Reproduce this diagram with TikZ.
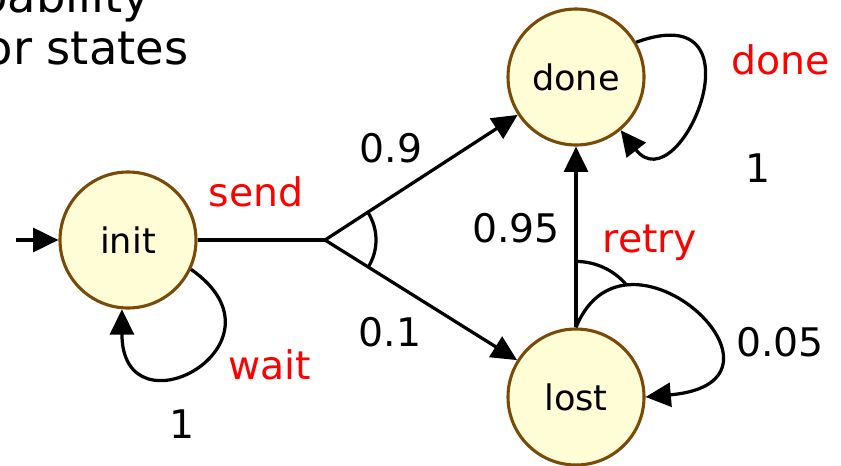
\documentclass[tikz,border=0pt]{standalone}
\usepackage{fontspec}
\setmainfont{DejaVu Sans}
\usetikzlibrary{arrows.meta}
\definecolor{stateFill}{RGB}{255,253,214}
\definecolor{stateLine}{RGB}{122,74,8}
\definecolor{actRed}{RGB}{255,0,0}

\begin{document}
\begin{tikzpicture}[
	state/.style={shape=circle, draw=stateLine, fill=stateFill, line width=2.2pt, minimum size=3.4cm, inner sep=0pt, font=\fontsize{25}{30}\selectfont},
	wire/.style={line width=2.3pt, -{Triangle[length=18pt, width=17pt]}},
	plain/.style={line width=2.3pt},
	prob/.style={font=\fontsize{28}{34}\selectfont, inner sep=0pt},
	act/.style={font=\fontsize{28}{34}\selectfont, text=actRed, inner sep=0pt},
	title/.style={font=\fontsize{33}{39}\selectfont, anchor=base east, inner sep=0pt}
]
	\useasboundingbox (0, 0) rectangle (21.025, 11.625);
	\clip (0, 0) rectangle (21.025, 11.625);
	% Paths, nodes and wires:
	\node[title] (line1) at (3.75, 11.3){probability};
	\node[title] (line2) at (4.72, 10.0){for states};
	\node[state] (init) at (3.2, 5.625){init};
	\node[state] (done) at (14.4, 9.7){done};
	\node[state] (lost) at (14.4, 1.7){lost};
	\coordinate (start) at (0.4, 5.625);
	\coordinate (sendbr) at (8.125, 5.625);
	\draw[wire] (start) -- (init);
	\draw[plain] (init) -- (sendbr);
	\draw[wire] (sendbr) -- (done);
	\draw[wire] (sendbr) -- (lost);
	\draw[plain] ([shift={(33:1.275)}]sendbr) arc[start angle=33, end angle=-33, radius=1.275];
	\draw[wire] (lost.north) -- (done.south);
	\draw[wire] (lost.north) .. controls +(68:3.3) and +(5:4.25) .. (lost.east);
	\draw[plain] ([shift={(90:1.65)}]lost.north) arc[start angle=90, end angle=41, radius=1.65];
	\draw[wire] (init.-25) .. controls +(-35:3.25) and +(-90:3.25) .. (init.-95);
	\draw[wire] (done.30) .. controls +(20:3.5) and +(-52:2.4) .. (done.-50);
	% Labels:
	\node[act] (sendlbl) at (6.4, 6.825){send};
	\node[act] (waitlbl) at (6.75, 2.5){wait};
	\node[act] (retrylbl) at (16.25, 5.56){retry};
	\node[act] (donelbl) at (19.525, 10.125){done};
	\node[prob] (p09) at (9.775, 7.925){0.9};
	\node[prob] (p01) at (9.75, 3.325){0.1};
	\node[prob] (p095) at (12.9, 5.925){0.95};
	\node[prob] (p005) at (19.5, 3.075){0.05};
	\node[prob] (pinit) at (4.55, 1.025){1};
	\node[prob] (pdone) at (18.95, 7.425){1};
\end{tikzpicture}
\end{document}
